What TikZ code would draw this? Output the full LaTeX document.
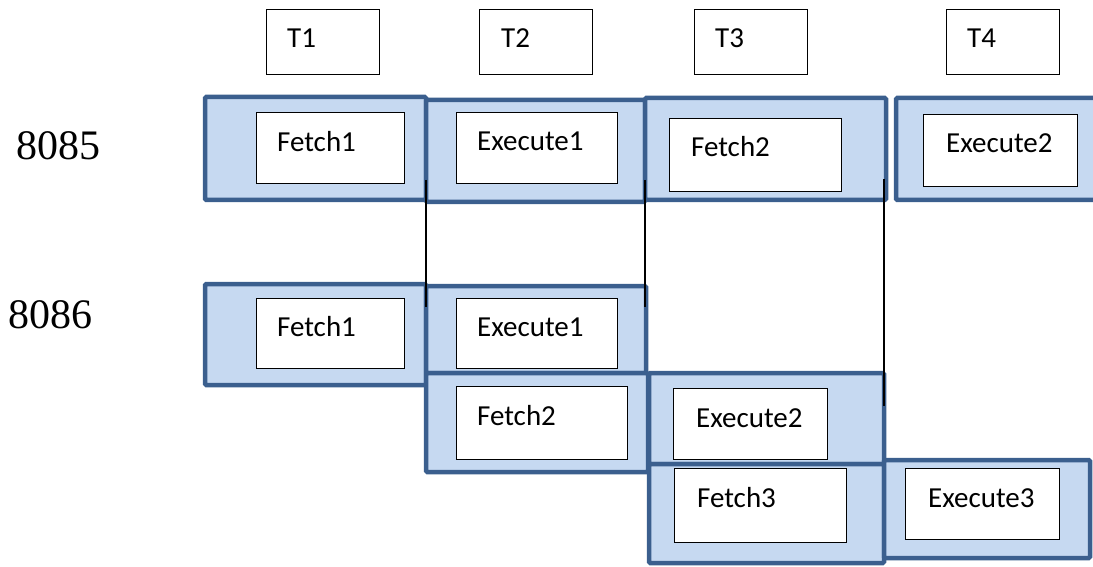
\documentclass[tikz,border=0pt]{standalone}
\usepackage{fontspec}
\setmainfont{Liberation Serif}
\newfontfamily\calib{Carlito}
\definecolor{obord}{HTML}{3B5F8E}
\definecolor{ofill}{HTML}{C6D9F1}
\begin{document}
\begin{tikzpicture}[x=1pt,y=-1pt,
  outerbox/.style={draw=obord,fill=ofill,line width=4.5pt,rounded corners=1.2pt},
  inbox/.style={draw=black,fill=white,line width=1.3pt,inner sep=0pt,anchor=north west},
  lbl/.style={font=\calib\fontsize{29}{31}\selectfont,inner sep=0pt,anchor=base west},
  cpu/.style={font=\fontsize{42}{44}\selectfont,inner sep=0pt,anchor=base west},
  tline/.style={draw=black,line width=1.3pt}]
\useasboundingbox (0,0) rectangle (1093,567);
% time headers
\foreach \n/\x in {1/266,2/479,3/694,4/946}{
  \node[inbox,minimum width=113pt,minimum height=65pt] (T\n) at (\x,9) {};
}
\node[lbl] (tT1) at (287,48) {T1};
\node[lbl] (tT2) at (501,48) {T2};
\node[lbl] (tT3) at (715,48) {T3};
\node[lbl] (tT4) at (967,48) {T4};
% CPU labels
\node[cpu] (c8085) at (16,160) {8085};
\node[cpu] (c8086) at (8,328) {8086};
% 8085 row
\draw[outerbox] (205,97) rectangle (426,200);
\draw[outerbox] (426,100) rectangle (645,202);
\draw[outerbox] (645,98) rectangle (886,200);
\draw[outerbox] (896,98) rectangle (1110,200);
\node[inbox,minimum width=148pt,minimum height=71pt] (aF1) at (256,112) {};
\node[inbox,minimum width=161pt,minimum height=71pt] (aE1) at (456,112) {};
\node[inbox,minimum width=172pt,minimum height=73pt] (aF2) at (669,118) {};
\node[inbox,minimum width=154pt,minimum height=72pt] (aE2) at (923,114) {};
\node[lbl] (laF1) at (277,152) {Fetch1};
\node[lbl] (laE1) at (477,151) {Execute1};
\node[lbl] (laF2) at (691,157) {Fetch2};
\node[lbl] (laE2) at (946,153) {Execute2};
% 8086 rows
\draw[outerbox] (205,284) rectangle (426,385);
\draw[outerbox] (426,286) rectangle (646,373);
\draw[outerbox] (426,373) rectangle (648,472);
\draw[outerbox] (649,373) rectangle (884,464);
\draw[outerbox] (649,464) rectangle (884,563);
\draw[outerbox] (884,460) rectangle (1090,558);
\node[inbox,minimum width=148pt,minimum height=70pt] (bF1) at (256,298) {};
\node[inbox,minimum width=161pt,minimum height=70pt] (bE1) at (456,298) {};
\node[inbox,minimum width=171pt,minimum height=73pt] (bF2) at (456,386) {};
\node[inbox,minimum width=154pt,minimum height=71pt] (bE2) at (673,388) {};
\node[inbox,minimum width=172pt,minimum height=74pt] (bF3) at (674,468) {};
\node[inbox,minimum width=154pt,minimum height=71pt] (bE3) at (905,468) {};
\node[lbl] (lbF1) at (277,336) {Fetch1};
\node[lbl] (lbE1) at (477,336) {Execute1};
\node[lbl] (lbF2) at (477,425) {Fetch2};
\node[lbl] (lbE2) at (696,427) {Execute2};
\node[lbl] (lbF3) at (697,507) {Fetch3};
\node[lbl] (lbE3) at (928,507) {Execute3};
% time boundary lines
\coordinate (v1a) at (426,180); \coordinate (v1b) at (426,307);
\coordinate (v2a) at (645,180); \coordinate (v2b) at (645,307);
\coordinate (v3a) at (884,179); \coordinate (v3b) at (884,406);
\draw[tline] (v1a) -- (v1b);
\draw[tline] (v2a) -- (v2b);
\draw[tline] (v3a) -- (v3b);
\end{tikzpicture}
\end{document}
